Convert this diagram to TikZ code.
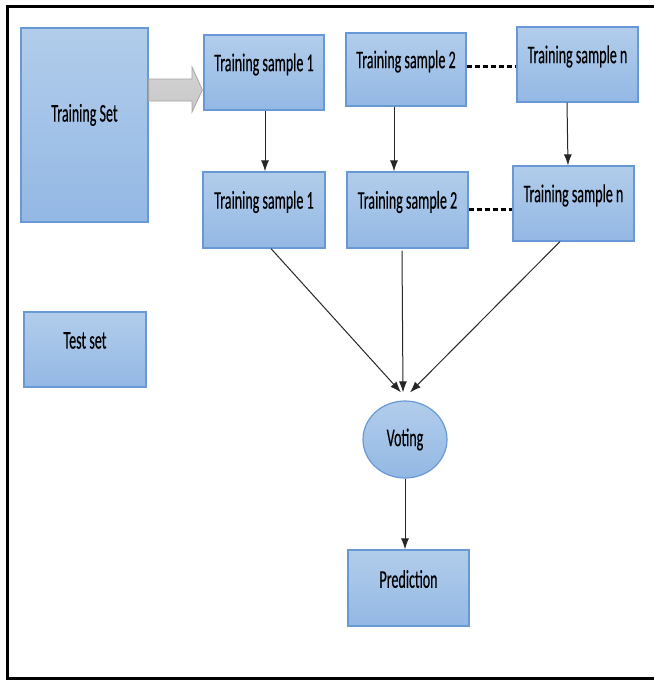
\documentclass[tikz,border=0pt]{standalone}
\usepackage{fontspec}
\setmainfont{Carlito}
\newfontfamily\narrowcal[FakeStretch=0.55,FakeBold=0.3]{Carlito}
\usetikzlibrary{arrows.meta,shapes.geometric,calc}
\definecolor{boxtop}{RGB}{178,205,235}
\definecolor{boxbot}{RGB}{147,184,228}
\definecolor{boxline}{RGB}{104,152,214}
\definecolor{arrgray}{RGB}{200,200,200}
\definecolor{arrline}{RGB}{165,165,165}
\tikzset{
  bluebox/.style={draw=boxline,line width=1.2pt,top color=boxtop,bottom color=boxbot,inner sep=0pt},
  lbl/.style={font=\narrowcal\fontsize{25.5}{30}\selectfont,text=black,inner sep=0pt},
  conn/.style={draw=black!85,line width=1pt,-{Latex[length=11pt,width=8pt]}},
  dotline/.style={draw=black,line width=3pt,dash pattern=on 5pt off 3pt},
  frameline/.style={draw=black,line width=3pt}
}
\begin{document}
\begin{tikzpicture}[x=1pt,y=-1pt]
\useasboundingbox (0,0) rectangle (654,680);
% frame (left, top, bottom)
\coordinate (f1) at (654,6.5);
\coordinate (f2) at (7.5,6.5);
\coordinate (f3) at (7.5,678.5);
\coordinate (f4) at (654,678.5);
\draw[frameline] (f1) -- (f2) -- (f3) -- (f4);

% boxes
\node[bluebox,minimum width=127pt,minimum height=194pt,label={[lbl,yshift=10pt]center:Training Set}] (tset) at (84.5,125) {};
\node[bluebox,minimum width=120pt,minimum height=75pt,label={[lbl,yshift=8pt]center:Training sample 1}] (ts1) at (264,72.5) {};
\node[bluebox,minimum width=120pt,minimum height=73pt,label={[lbl,yshift=8pt]center:Training sample 2}] (ts2) at (406,69.5) {};
\node[bluebox,minimum width=121pt,minimum height=75pt,label={[lbl,yshift=8pt]center:Training sample n}] (tsn) at (577.5,64.5) {};
\node[bluebox,minimum width=122pt,minimum height=76pt,label={[lbl,yshift=8pt]center:Training sample 1}] (ts1b) at (264,210) {};
\node[bluebox,minimum width=121pt,minimum height=76pt,label={[lbl,yshift=8pt]center:Training sample 2}] (ts2b) at (407.5,210) {};
\node[bluebox,minimum width=121pt,minimum height=75pt,label={[lbl,yshift=8pt]center:Training sample n}] (tsnb) at (573.5,203.5) {};
\node[bluebox,minimum width=122pt,minimum height=75pt,label={[lbl,yshift=9pt]center:Test set}] (test) at (85,349.5) {};
\node[bluebox,ellipse,minimum width=84pt,minimum height=77pt,label={[lbl]center:Voting}] (vote) at (405,439.5) {};
\node[bluebox,minimum width=121pt,minimum height=76pt,label={[lbl,yshift=9pt]center:Prediction}] (pred) at (408.5,588) {};

% big gray arrow
\draw[draw=arrline,line width=0.8pt,top color=arrgray!80,bottom color=arrgray]
  (tset.east |- 0,79) -- (192,79) -- (192,67) -- ($(ts1.west)+(-1,17.5)$) -- (192,112) -- (192,101) -- (tset.east |- 0,101) -- cycle;

% vertical connectors
\draw[conn] ($(ts1.south)+(1,0)$) -- ($(ts1b.north)+(1,0)$);
\draw[conn] ($(ts2.south)+(-12,0)$) -- ($(ts2b.north)+(-13.5,0)$);
\draw[conn] ($(tsn.south)+(-10.5,0)$) -- ($(tsnb.north)+(-5.5,0)$);

% dotted links
\draw[dotline] ($(ts2.east)+(0,-3.5)$) -- ($(tsn.west)+(0,1.5)$);
\draw[dotline] (ts2b.east |- tsnb.west) ++(0,5.5) coordinate (d1) -- ($(tsnb.west)+(0,5.5)$);

% converging connectors
\coordinate (vt) at ($(vote.north)+(0,-8)$);
\draw[conn] ($(ts1b.south)+(7,0)$) -- ($(vt)+(-4,0)$);
\draw[conn] ($(ts2b.south)+(-5.5,2)$) -- ($(vt)+(-2,0)$);
\draw[conn] ($(tsnb.south)+(-13.5,0)$) -- ($(vt)+(5,0)$);

% voting to prediction
\draw[conn] (vote.south) -- (vote.south |- pred.north);
\end{tikzpicture}
\end{document}
